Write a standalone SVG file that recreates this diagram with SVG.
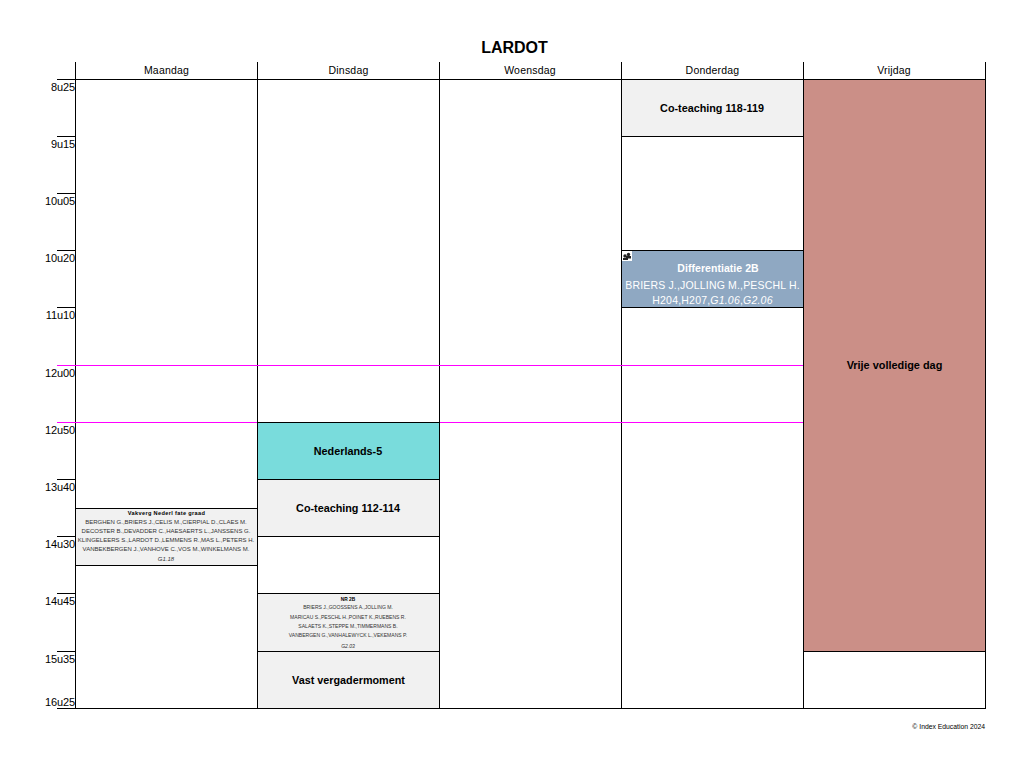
<svg xmlns="http://www.w3.org/2000/svg" width="1023" height="767" viewBox="0 0 1023 767">
<style>
text{font-family:"Liberation Sans",Arial,sans-serif;fill:#000;text-anchor:middle}
.day{font-size:10.5px;letter-spacing:.2px}
.time{font-size:11px;text-anchor:end;letter-spacing:-.1px}
.b{font-size:10.8px;font-weight:bold}
.s{font-size:6px;fill:#333}
.s2{font-size:5.05px;fill:#333}
.w{fill:#fff;font-size:10.5px}
.l{stroke:#000;stroke-width:1;fill:none;shape-rendering:crispEdges}
.m{stroke:#f0f;stroke-width:1;shape-rendering:crispEdges}
.box{stroke:#000;stroke-width:1;shape-rendering:crispEdges}
.g{fill:#f1f1f1}
</style>
<rect width="1023" height="767" fill="#fff"/>
<text x="514.500" y="53" font-size="16" font-weight="bold">LARDOT</text>
<g id="grid">
<path class="l" d="M75.500 62V708.500M257.500 62V708.500M439.500 62V708.500M621.500 62V708.500M803.500 62V708.500M985.500 62V708.500M57 79.500H985.500M57 708.500H985.500"/>
<path class="l" d="M57 136.500H75M57 193.500H75M57 250.500H75M57 307.500H75M57 479.500H75M57 536.500H75M57 593.500H75M57 651.500H75"/>
<path class="m" d="M57 365.500H803M57 422.500H803"/>
</g>
<g id="days">
<text class="day" x="166.500" y="74">Maandag</text>
<text class="day" x="348.500" y="74">Dinsdag</text>
<text class="day" x="530" y="74">Woensdag</text>
<text class="day" x="712.500" y="74">Donderdag</text>
<text class="day" x="894" y="74">Vrijdag</text>
</g>
<g id="times">
<text class="time" x="75" y="91">8u25</text>
<text class="time" x="75" y="148">9u15</text>
<text class="time" x="75" y="205">10u05</text>
<text class="time" x="75" y="262">10u20</text>
<text class="time" x="75" y="319">11u10</text>
<text class="time" x="75" y="377">12u00</text>
<text class="time" x="75" y="434">12u50</text>
<text class="time" x="75" y="491">13u40</text>
<text class="time" x="75" y="548">14u30</text>
<text class="time" x="75" y="605">14u45</text>
<text class="time" x="75" y="663">15u35</text>
<text class="time" x="75" y="706">16u25</text>
</g>
<g id="vakverg">
<rect class="box g" x="75.500" y="508.500" width="182" height="57"/>
<text x="166.500" y="515" font-size="5.600" font-weight="bold" letter-spacing=".35">Vakverg Nederl fate graad</text>
<text class="s" x="166" y="524">BERGHEN G.,BRIERS J.,CELIS M.,CIERPIAL D.,CLAES M.</text>
<text class="s" x="166" y="533">DECOSTER B.,DEVADDER C.,HAESAERTS L.,JANSSENS G.</text>
<text class="s" x="166" y="542">KLINGELEERS S.,LARDOT D.,LEMMENS R.,MAS L.,PETERS H.</text>
<text class="s" x="166" y="551">VANBEKBERGEN J.,VANHOVE C.,VOS M.,WINKELMANS M.</text>
<text class="s" x="166" y="561" font-style="italic">G1.18</text>
</g>
<g id="nederlands">
<rect class="box" x="257.500" y="422.500" width="182" height="57" fill="#79dcdc"/>
<text class="b" x="348" y="455">Nederlands-5</text>
</g>
<g id="coteaching112">
<rect class="box g" x="257.500" y="479.500" width="182" height="57"/>
<text class="b" x="348" y="512">Co-teaching 112-114</text>
</g>
<g id="nr2b">
<rect class="box g" x="257.500" y="593.500" width="182" height="58"/>
<text x="348" y="600.500" font-size="4.800" font-weight="bold">NR 2B</text>
<text class="s2" x="348" y="608.500">BRIERS J.,GOOSSENS A.,JOLLING M.</text>
<text class="s2" x="348" y="618.500">MARICAU S.,PESCHL H.,POINET K.,RUEBENS R.</text>
<text class="s2" x="348" y="628">SALAETS K.,STEPPE M.,TIMMERMANS B.</text>
<text class="s2" x="348" y="637">VANBERGEN G.,VANHALEWYCK L.,VEKEMANS P.</text>
<text class="s2" x="348" y="647.500" font-style="italic">G2.03</text>
</g>
<g id="vastvergader">
<rect class="box g" x="257.500" y="651.500" width="182" height="57"/>
<text class="b" x="348.500" y="684">Vast vergadermoment</text>
</g>
<g id="coteaching118">
<rect class="box g" x="621.500" y="79.500" width="182" height="57"/>
<text class="b" x="712" y="112">Co-teaching 118-119</text>
</g>
<g id="differentiatie">
<rect class="box" x="621.500" y="250.500" width="182" height="57" fill="#8fa8c2"/>
<rect x="622" y="251" width="10" height="10" fill="#fff"/>
<circle cx="625" cy="256" r="1.700" fill="#222"/><circle cx="628.500" cy="254.500" r="1.700" fill="#222"/><path d="M623 260v-2h3v-2h5v2.500h-3v1.500z" fill="#222"/>
<text class="w" x="718" y="272" font-weight="bold" style="letter-spacing:.05px">Differentiatie 2B</text>
<text class="w" x="712.500" y="289" style="letter-spacing:.17px">BRIERS J.,JOLLING M.,PESCHL H.</text>
<text class="w" x="712.500" y="304" style="letter-spacing:.2px">H204,H207,<tspan font-style="italic">G1.06</tspan>,<tspan font-style="italic">G2.06</tspan></text>
</g>
<g id="vrije">
<rect class="box" x="803.500" y="79.500" width="182" height="572" fill="#cb8f87"/>
<text x="894.500" y="369" font-size="10.900" font-weight="bold">Vrije volledige dag</text>
</g>
<text x="985" y="729" font-size="6.800" fill="#444" style="text-anchor:end">© Index Education 2024</text>
</svg>
